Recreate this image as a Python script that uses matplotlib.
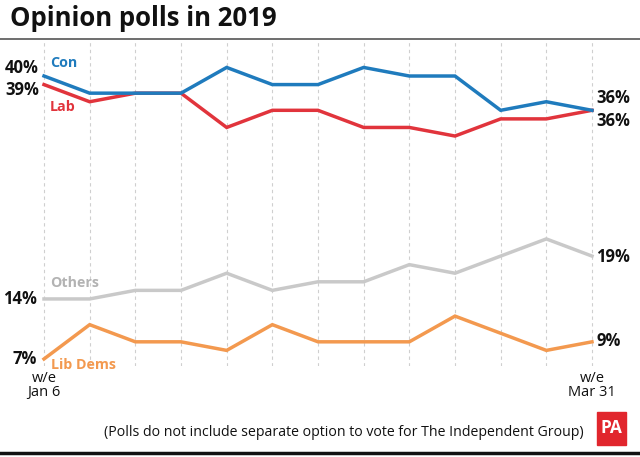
import matplotlib
matplotlib.use('Agg')
import matplotlib.pyplot as plt
from matplotlib.lines import Line2D
from matplotlib.patches import Rectangle

plt.rcParams['font.family'] = ['Open Sans', 'DejaVu Sans']

# poll values, weekly from w/e Jan 6 to w/e Mar 31
weeks = list(range(13))
con = [40, 38, 38, 38, 41, 39, 39, 41, 40, 40, 36, 37, 36]
lab = [39, 37, 38, 38, 34, 36, 36, 34, 34, 33, 35, 35, 36]
others = [14, 14, 15, 15, 17, 15, 16, 16, 18, 17, 19, 21, 19]
libdems = [7, 11, 9, 9, 8, 11, 9, 9, 9, 12, 10, 8, 9]

C_CON = '#1f7bbd'
C_LAB = '#e1343c'
C_OTH = '#c9c9c9'
C_LD = '#f3994f'

W, H = 640, 457
fig = plt.figure(figsize=(W / 100, H / 100), dpi=100)

# axes placed so that x=0 -> 44px, x=12 -> 592px
step = (592 - 44) / 12
left_px = 44 - 0.5 * step
right_px = 592 + 0.5 * step
ax = fig.add_axes([left_px / W, 1 - 366 / H, (right_px - left_px) / W, (366 - 40) / H])
ax.set_xlim(-0.5, 12.5)
ax.set_ylim(6.18, 44.2)
ax.axis('off')

for w in weeks:
    ax.axvline(w, color='#cfcfcf', lw=0.8, ls=(0, (3, 3)), zorder=0)

lw = 2.5
ax.plot(weeks, others, color=C_OTH, lw=lw, solid_joinstyle='miter', clip_on=False)
ax.plot(weeks, libdems, color=C_LD, lw=lw, solid_joinstyle='miter', clip_on=False)
ax.plot(weeks, lab, color=C_LAB, lw=lw, solid_joinstyle='miter', clip_on=False)
ax.plot(weeks, con, color=C_CON, lw=lw, solid_joinstyle='miter', clip_on=False)

def lab_txt(x, y, s, dx, dy, color='#111111', ha='left', size=12, weight='bold'):
    ax.annotate(s, (x, y), xytext=(dx, -dy), textcoords='offset pixels',
                ha=ha, va='center', color=color, fontsize=size, fontweight=weight)

# start values
lab_txt(0, con[0], f'{con[0]}%', -5, -8, ha='right')
lab_txt(0, lab[0], f'{lab[0]}%', -5, 5, ha='right')
lab_txt(0, others[0], f'{others[0]}%', -7, 0, ha='right')
lab_txt(0, libdems[0], f'{libdems[0]}%', -7, 0, ha='right')

# series names
lab_txt(0, con[0], 'Con', 6, -13, color=C_CON, size=10.3)
lab_txt(0, lab[0], 'Lab', 6, 22, color=C_LAB, size=10.3)
lab_txt(0, others[0], 'Others', 6, -16, color='#b3b3b3', size=10.3)
lab_txt(0, libdems[0], 'Lib Dems', 7, 6, color=C_LD, size=10.3)

# end values
lab_txt(12, con[-1], f'{con[-1]}%', 4, -12)
lab_txt(12, lab[-1], f'{lab[-1]}%', 4, 11)
lab_txt(12, others[-1], f'{others[-1]}%', 4, 1)
lab_txt(12, libdems[-1], f'{libdems[-1]}%', 4, -1)

# date labels
ax.annotate('w/e\nJan 6', (0, 6.18), xytext=(0, -5), textcoords='offset pixels',
            ha='center', va='top', fontsize=10.5, linespacing=0.95, color='#111111')
ax.annotate('w/e\nMar 31', (12, 6.18), xytext=(0, -5), textcoords='offset pixels',
            ha='center', va='top', fontsize=10.5, linespacing=0.95, color='#111111')

# title and rules
fig.text(10 / W, 1 - 19 / H, 'Opinion polls in 2019', fontsize=18.5, fontweight='bold',
         ha='left', va='center', color='#111111')
fig.add_artist(Line2D([0, 1], [1 - 39 / H, 1 - 39 / H], color='#555555', lw=1.2))
fig.add_artist(Line2D([0, 1], [1 - 453 / H, 1 - 453 / H], color='#111111', lw=2.5))

fig.text(344 / W, 1 - 432 / H,
         '(Polls do not include separate option to vote for The Independent Group)',
         fontsize=10.2, ha='center', va='center', color='#111111')

# PA logo
fig.add_artist(Rectangle((597 / W, 1 - 445 / H), 29 / W, 33 / H, color='#e1262d',
                         transform=fig.transFigure))
fig.text(611.5 / W, 1 - 428 / H, 'PA', color='white', fontsize=12.5, fontweight='bold',
         ha='center', va='center')

fig.savefig('out.png', dpi=100)
